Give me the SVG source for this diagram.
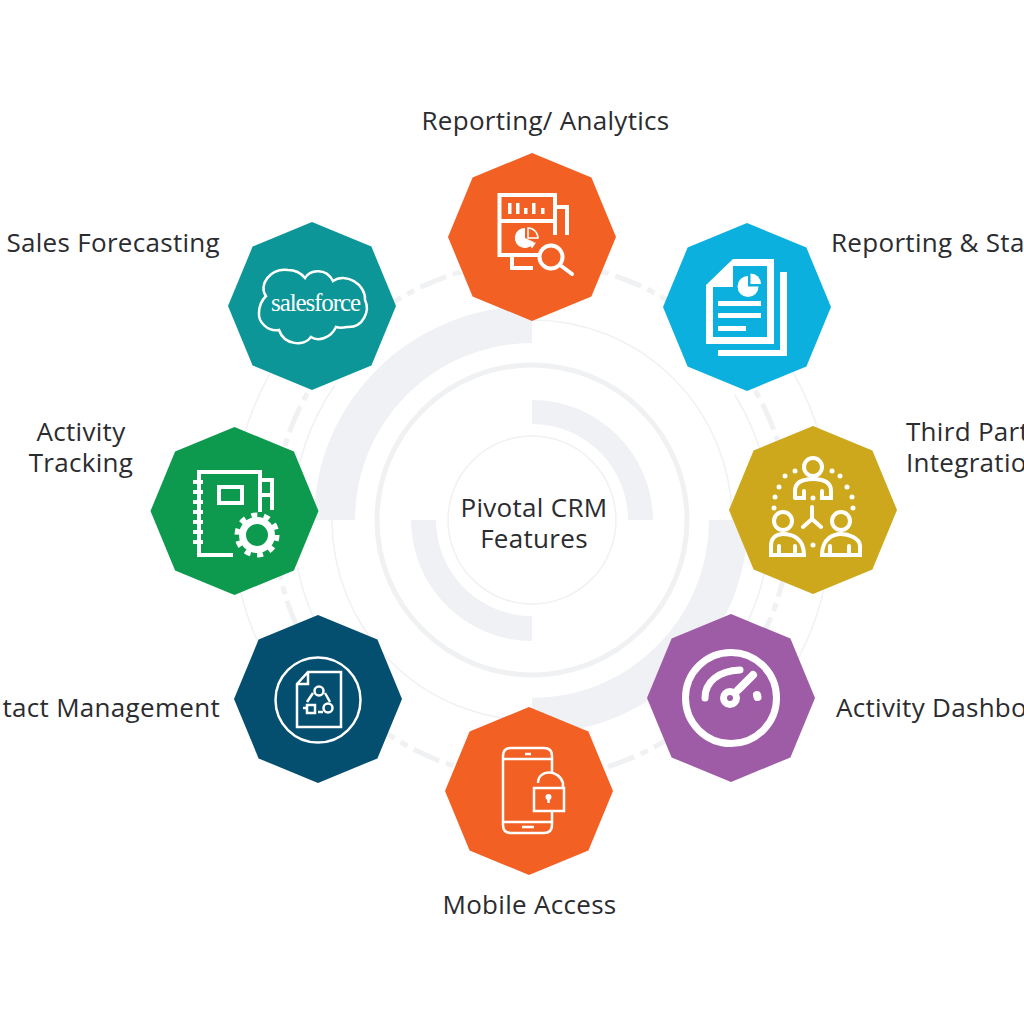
<svg xmlns="http://www.w3.org/2000/svg" width="1024" height="1024" viewBox="0 0 1024 1024">
<style>
text{font-family:"Open Sans","Noto Sans","Liberation Sans",sans-serif;font-size:26px;fill:#2b2c30;letter-spacing:.3px;font-weight:500}
.m{text-anchor:middle}
.r{text-anchor:end}
.q{fill:#eff1f4}
.ring{fill:none;stroke:#f0f1f3}
.i{fill:none;stroke:#fff;stroke-width:4;stroke-linejoin:miter}
.t{fill:none;stroke:#fff;stroke-width:2.5}
.w{fill:#fff}
.d{fill:#fff}
</style>
<defs><polygon id="oct" points="0,-84 59.4,-59.4 84,0 59.4,59.4 0,84 -59.4,59.4 -84,0 -59.4,-59.4"/></defs>
<rect width="1024" height="1024" fill="#fff"/>
<g id="connectors">
<circle class="ring" cx="532" cy="520" r="84" stroke-width="1.5"/>
<circle class="ring" cx="532" cy="520" r="155" stroke-width="5"/>
<circle class="ring" cx="532" cy="520" r="200" stroke-width="1.5"/>
<circle class="ring" cx="532" cy="520" r="258" stroke-width="5" stroke-dasharray="28 7 8 7"/>
<path class="ring" stroke-width="1.5" d="M286 348A300 300 0 0 0 272 670M768 335A300 300 0 0 1 778 692M335 385A239 239 0 0 0 330 648M735 395A239 239 0 0 1 735 645"/>
<path class="q" d="M532 400A121 121 0 0 1 653 520H628A96 96 0 0 0 532 424Z"/>
<path class="q" d="M411 520H436A96 96 0 0 0 532 616V641A121 121 0 0 1 411 520Z"/>
<path class="q" d="M314 520A218 214 0 0 1 532 306V343A177 177 0 0 0 355 520Z"/>
<path class="q" d="M748 520A216 214 0 0 1 532 734V698A177 178 0 0 0 709 520Z"/>
</g>
<g id="center"><text class="m" x="534" y="517">Pivotal CRM</text><text class="m" x="534" y="548">Features</text></g>
<g id="reporting-analytics">
<text class="m" x="545.500" y="130">Reporting/ Analytics</text>
<use href="#oct" x="532" y="237" fill="#f26024"/>
<path class="i" d="M555 235V195H499.500V255H538M499.500 221H555M555 207H567V235M512 255V268H533"/>
<path class="w" d="M508 203h3.500v11h-3.500zM516 203h3.500v11h-3.500zM524 208h3.500v6h-3.500zM532 203h3.500v11h-3.500zM541 208h3.500v6h-3.500z"/>
<path class="w" d="M525 228a10 10 0 1 0 9 14l-9-4z"/>
<path class="w" d="M528 243l8-.500l-4 6z"/>
<path fill="none" stroke="#fff" stroke-width="1.500" d="M528 228a10 10 0 0 1 10 10h-10z"/>
<circle class="i" cx="551" cy="257" r="11.500"/><path class="i" stroke-linecap="round" d="M560 265l12 9"/>
</g>
<g id="reporting-statistics">
<text x="831" y="252">Reporting &amp; Sta</text>
<use href="#oct" x="747" y="307" fill="#0bb0df"/>
<path class="w" d="M733 259H774V344H706V285Z"/>
<path fill="#0bb0df" d="M733 266H767V337H713V287H733Z"/>
<path class="w" d="M780 272H787V356H718V350H780Z"/>
<path class="w" d="M748 276a10.500 10.500 0 1 0 10.500 10.500h-10.500z"/>
<path class="w" d="M750.500 273.500a10.500 10.500 0 0 1 10.500 10.500h-10.500z"/>
<path class="w" d="M718 301h43v5h-43zM718 313h43v5h-43zM718 326h28v5h-28z"/>
</g>
<g id="sales-forecasting">
<text class="r" x="220" y="252">Sales Forecasting</text>
<use href="#oct" x="312" y="306" fill="#0d9698"/>
<path class="t" stroke-width="2" d="M266 296C258 285 270 268 288 270C295 270 301 273 305 278C309 271 325 266 333 281C345 272 366 284 365 300C370 310 364 328 347 327C342 328 339 328 336 327C331 338 318 342 311 337C304 347 284 345 279 330C268 332 258 322 259 313C259 306 262 300 266 296Z"/>
<text x="271" y="311" style="font-family:'Liberation Serif',serif;font-size:25px;font-weight:400;fill:#fff;letter-spacing:-1.1px">salesforce</text>
</g>
<g id="activity-tracking">
<text class="m" x="81" y="441">Activity</text><text class="m" x="81" y="472">Tracking</text>
<use href="#oct" x="234.500" y="511" fill="#0e9a4e"/>
<path class="i" d="M260 512V472H199V555H233M219 487H242V503H219ZM260 480H272V510M260 495H272"/>
<path class="w" d="M193 480h10v4h-10zM193 490h10v4h-10zM193 500h10v4h-10zM193 510h10v4h-10zM193 520h10v4h-10zM193 530h10v4h-10zM193 540h10v4h-10z"/>
<circle cx="257" cy="535" r="14.500" fill="none" stroke="#fff" stroke-width="7"/>
<circle cx="257" cy="535" r="20" fill="none" stroke="#fff" stroke-width="5" stroke-dasharray="6 6.566"/>
</g>
<g id="third-party">
<text x="906" y="441">Third Part</text><text x="906" y="472">Integratio</text>
<use href="#oct" x="813" y="510" fill="#cda81c"/>
<g class="i" stroke-linecap="round">
<circle cx="813" cy="467" r="9"/>
<path d="M795 498V491C795 483 801 479 813 479C825 479 831 483 831 491V498H822V491M795 498H804V491"/>
<circle cx="783" cy="521" r="9"/><path d="M771 555V546C771 538 776 534 783 534C792 534 804 538 804 555ZM779 555V546M795 555V546"/>
<circle cx="841" cy="521" r="9"/><path d="M822 555C822 538 834 534 841 534C848 534 860 538 860 546V555ZM830 555V546M849 555V546"/>
<path d="M812 507V519M812 519L803 527M812 519L821 527"/>
</g>
<g class="d">
<circle cx="795" cy="471" r="2.500"/><circle cx="785" cy="476" r="2.500"/><circle cx="779" cy="487" r="2.500"/><circle cx="775" cy="497" r="2.500"/><circle cx="774" cy="508" r="2.500"/>
<circle cx="832" cy="471" r="2.500"/><circle cx="840" cy="476" r="2.500"/><circle cx="847" cy="487" r="2.500"/><circle cx="852" cy="497" r="2.500"/><circle cx="853" cy="508" r="2.500"/>
<circle cx="813" cy="498" r="2.500"/><circle cx="813" cy="545" r="2.500"/>
</g>
</g>
<g id="activity-dashboard">
<text x="836" y="717">Activity Dashbo</text>
<use href="#oct" x="731" y="698" fill="#9e5ba6"/>
<circle cx="731" cy="698" r="45.500" fill="none" stroke="#fff" stroke-width="7"/>
<g fill="none" stroke="#fff" stroke-linecap="round">
<path stroke-width="7" d="M705 698C705 682 718 671 740 670"/>
<circle cx="730" cy="698" r="6.500" stroke-width="7"/>
<path stroke-width="8" d="M738 690L753 675"/>
<path stroke-width="8" d="M757 695L757.500 697"/>
</g>
</g>
<g id="contact-management">
<text class="r" x="220" y="717">tact Management</text>
<use href="#oct" x="318" y="699" fill="#044e6f"/>
<g class="t">
<circle cx="318" cy="700" r="42.500"/>
<path d="M308 672H341V727H297V684ZM297 684H308V672"/>
<circle cx="319" cy="691" r="4.500"/><rect x="307" y="705" width="8" height="8"/><circle cx="328" cy="708" r="4.500"/>
<path d="M313 693L307 702M325 693L330 702M318 712H323M303 708H306"/>
</g>
</g>
<g id="mobile-access">
<text class="m" x="529.500" y="914">Mobile Access</text>
<use href="#oct" x="529" y="791" fill="#f26024"/>
<g class="t" stroke-width="3">
<path d="M552 773V756Q552 748 544 748H511Q503 748 503 756V825Q503 833 511 833H544Q552 833 552 825V812M503 759H552M503 822H552M525 754H531M522 827H534"/>
<rect x="534" y="788" width="30" height="23"/>
<path d="M538 783C538 769 559 769 563 783V788"/>
<circle class="w" stroke="none" cx="548.500" cy="797" r="3"/><path d="M548.500 797v6"/>
</g>
</g>
</svg>
